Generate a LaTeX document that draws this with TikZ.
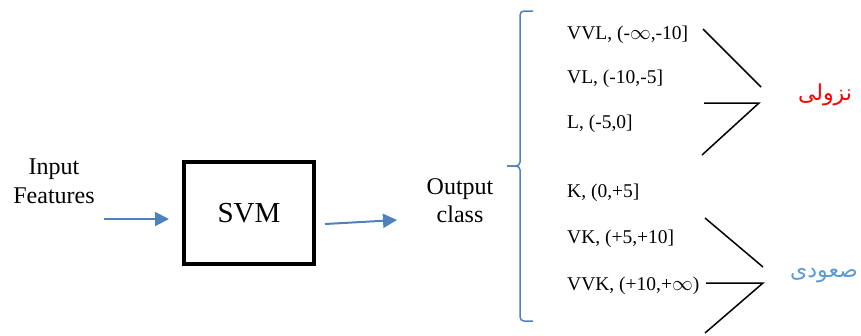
\documentclass[tikz,border=0pt]{standalone}
\usepackage{fontspec}
\setmainfont{Liberation Serif}
\newfontfamily\arabicfont[Script=Arabic]{DejaVu Sans}
\TeXXeTstate=1
\usetikzlibrary{arrows.meta}
\definecolor{officeblue}{HTML}{4F81BD}
\definecolor{lightblue}{HTML}{5B9BD5}
\begin{document}
\begin{tikzpicture}[x=1pt, y=-1pt,
  flow/.style={draw=officeblue, line width=2pt, -{Triangle[length=14pt,width=14pt]}},
  classlabel/.style={anchor=west, inner sep=0pt, font=\fontsize{19.5}{23}\selectfont},
  chevron/.style={draw=black, line width=1.5pt},
  trendlabel/.style={inner sep=0pt, font=\arabicfont\fontsize{22}{26}\selectfont}]
\useasboundingbox (0,0) rectangle (861,335);

\node[align=center, font=\fontsize{24}{29}\selectfont] (input) at (54,181) {Input\\Features};
\node[shape=rectangle, draw=black, line width=4.5pt, minimum width=130pt, minimum height=102pt, font=\fontsize{29}{34}\selectfont](svm) at (249,213) {SVM};
\node[align=center, font=\fontsize{24}{28}\selectfont] (output) at (460,201) {Output\\class};

\coordinate (inStart) at (104,219);
\coordinate (inEnd) at (169,219);
\coordinate (outStart) at (325,224);
\coordinate (outEnd) at (397,220);
\draw[flow] (inStart) -- (inEnd);
\draw[flow] (outStart) -- (outEnd);

% bracket round the classes
\draw[officeblue, line width=1.5pt] (533,11) -- (524,11) to[out=180,in=90] (520,15) -- (520,162) to[out=270,in=0] (516,166) -- (507,166);
\draw[officeblue, line width=1.5pt] (507,166) -- (516,166) to[out=0,in=90] (520,170) -- (520,317) to[out=270,in=180] (524,321) -- (533,321);

\node[classlabel] (vvl) at (567,35) {VVL, (-$\infty$,-10]};
\node[classlabel] (vl) at (567,79) {VL, (-10,-5]};
\node[classlabel] (l) at (567,124) {L, (-5,0]};
\node[classlabel] (k) at (567,193) {K, (0,+5]};
\node[classlabel] (vk) at (567,239) {VK, (+5,+10]};
\node[classlabel] (vvk) at (567,286) {VVK, (+10,+$\infty$)};

\node[trendlabel, text=red] (down) at (825,95) {\beginR نزولی\endR};
\node[trendlabel, text=lightblue] (up) at (824,276) {\beginR صعودی\endR};

% chevrons
\coordinate (d1) at (703,29);
\coordinate (d2) at (761,87);
\coordinate (d3) at (704,103);
\coordinate (d4) at (759,103);
\coordinate (d5) at (702,155);
\draw[chevron] (d1) -- (d2);
\draw[chevron] (d3) -- (d4) -- (d5);
\coordinate (u1) at (705,218);
\coordinate (u2) at (763,267);
\coordinate (u3) at (706,283);
\coordinate (u4) at (763,283);
\coordinate (u5) at (705,333);
\draw[chevron] (u1) -- (u2);
\draw[chevron] (u3) -- (u4) -- (u5);
\end{tikzpicture}
\end{document}
